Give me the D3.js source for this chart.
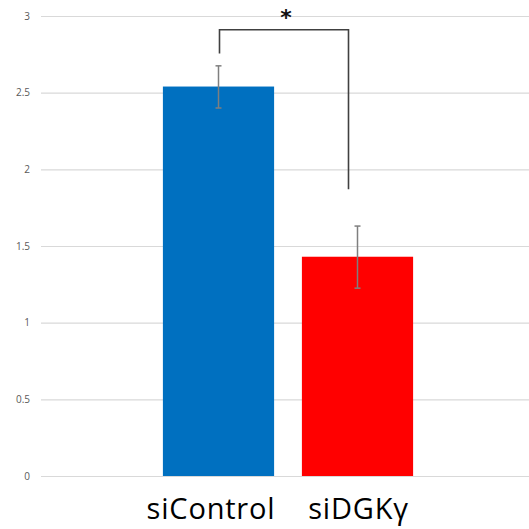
<!DOCTYPE html>
<html>
<head>
<meta charset="utf-8">
<script src="https://cdn.jsdelivr.net/npm/d3@7"></script>
<style>
  body { margin: 0; background: #fff; }
  svg { display: block; }
</style>
</head>
<body>
<svg id="chart"></svg>
<script>
const categories = ["siControl", "siDGKγ"]
const values = [2.54, 1.43]
const errHigh = [2.675, 1.63]
const errLow = [2.40, 1.225]
const barColors = ["#0070c0", "#ff0000"]
const yTicks = [0, 0.5, 1, 1.5, 2, 2.5, 3]
const sigLabel = "*"

const W = 529, H = 529
const svg = d3.select("#chart").attr("width", W).attr("height", H)

const y = d3.scaleLinear().domain([0, 3]).range([476, 16])
const x = d3.scaleBand().domain(categories).range([149, 427])
  .paddingInner(0.2).paddingOuter(0.1)

// gridlines + tick labels
const yAxis = svg.append("g")
  .attr("transform", "translate(41,0)")
  .call(d3.axisLeft(y).tickValues(yTicks).tickSize(-(W - 41)).tickPadding(11)
    .tickFormat(d => d))
yAxis.select(".domain").remove()
yAxis.selectAll(".tick line").attr("stroke", "#d9d9d9").attr("stroke-width", 1.2)
yAxis.selectAll(".tick text")
  .attr("fill", "#595959")
  .style("font-family", "'Open Sans', sans-serif")
  .style("font-size", "10px")

// bars
svg.append("g").selectAll("rect")
  .data(values).enter()
  .append("rect")
  .attr("x", (d, i) => x(categories[i]))
  .attr("y", d => y(d))
  .attr("width", x.bandwidth())
  .attr("height", d => y(0) - y(d))
  .attr("fill", (d, i) => barColors[i])

// error bars
const eb = svg.append("g").attr("stroke", "#7f7f7f").attr("stroke-width", 1.5)
categories.forEach((c, i) => {
  const cx = x(c) + x.bandwidth() / 2
  eb.append("line").attr("x1", cx).attr("x2", cx).attr("y1", y(errHigh[i])).attr("y2", y(errLow[i]))
  eb.append("line").attr("x1", cx - 3).attr("x2", cx + 3).attr("y1", y(errHigh[i])).attr("y2", y(errHigh[i]))
  eb.append("line").attr("x1", cx - 3).attr("x2", cx + 3).attr("y1", y(errLow[i])).attr("y2", y(errLow[i]))
})

// significance bracket
const lx = x(categories[0]) + x.bandwidth() / 2 + 1
const rx = x(categories[1]) + x.bandwidth() / 2 - 9
const topY = y(2.91)
svg.append("path")
  .attr("d", `M${lx},${y(2.755)} L${lx},${topY} L${rx},${topY} L${rx},${y(1.87)}`)
  .attr("fill", "none")
  .attr("stroke", "#404040")
  .attr("stroke-width", 1.6)
svg.append("text")
  .attr("x", (lx + rx) / 2 + 2)
  .attr("y", topY - 5)
  .attr("text-anchor", "middle")
  .style("font-family", "'DejaVu Sans', sans-serif")
  .style("font-weight", "bold")
  .style("font-size", "22px")
  .attr("fill", "#111")
  .text(sigLabel)

// category labels
const labelShift = [-7.5, 1]
svg.append("g").selectAll("text")
  .data(categories).enter()
  .append("text")
  .attr("x", (d, i) => x(d) + x.bandwidth() / 2 + labelShift[i])
  .attr("y", 519)
  .attr("text-anchor", "middle")
  .style("font-family", "'Open Sans', sans-serif")
  .style("font-size", "29px")
  .style("letter-spacing", "0.8px")
  .attr("fill", "#000")
  .text(d => d)
</script>
</body>
</html>
